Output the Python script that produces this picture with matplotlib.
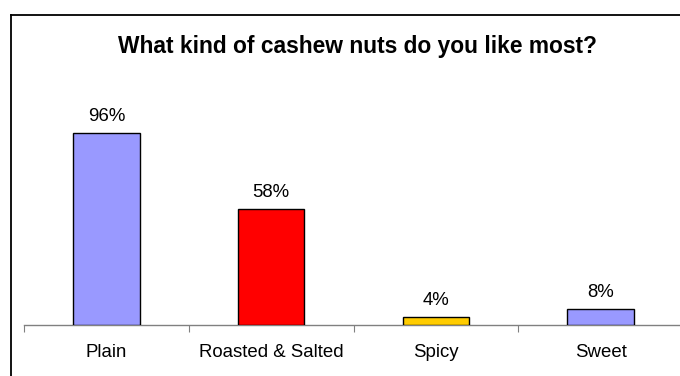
import matplotlib
matplotlib.use("Agg")
import matplotlib.pyplot as plt
from matplotlib.lines import Line2D

categories = ["Plain", "Roasted & Salted", "Spicy", "Sweet"]
values = [96, 58, 4, 8]
labels = ["96%", "58%", "4%", "8%"]
colors = ["#9999ff", "#ff0000", "#ffcc00", "#9999ff"]
title = "What kind of cashew nuts do you like most?"

plt.rcParams['font.family'] = ['Liberation Sans', 'DejaVu Sans']

W, H = 680, 376
fig = plt.figure(figsize=(W/100, H/100), dpi=100)
ax = fig.add_axes([24/W, 1-325/H, (683-24)/W, 200/H])

x = list(range(len(categories)))
ax.bar(x, values, width=0.405, color=colors, edgecolor="black", linewidth=1.0, zorder=3)
ax.set_xlim(-0.5, len(categories)-0.5)
ax.set_ylim(0, 100)
for xi, v, lab in zip(x, values, labels):
    ax.annotate(lab, (xi, v), xytext=(0, 6), textcoords="offset points",
                ha="center", va="bottom", fontsize=13.4)

for s in ["top", "right", "left"]:
    ax.spines[s].set_visible(False)
ax.spines["bottom"].set_color("#808080")
ax.spines["bottom"].set_linewidth(1.0)
ax.set_yticks([])
ax.set_xticks([i - 0.5 for i in range(len(categories)+1)])
ax.set_xticklabels([])
ax.set_xticks(x, minor=True)
ax.set_xticklabels(categories, minor=True, fontsize=13.4)
ax.tick_params(axis="x", which="major", length=5, color="#808080", direction="out")
ax.tick_params(axis="x", which="minor", length=0, pad=14)

fig.text(357/W, 1-47/H, title, ha="center", va="center", fontsize=16.4, fontweight="bold")

# chart border (left and top visible)
fig.add_artist(Line2D([11/W, 11/W], [0, 1-15/H], color="black", linewidth=1.3, transform=fig.transFigure))
fig.add_artist(Line2D([11/W, 1], [1-15/H, 1-15/H], color="black", linewidth=1.3, transform=fig.transFigure))

fig.savefig("out.png", dpi=100)
